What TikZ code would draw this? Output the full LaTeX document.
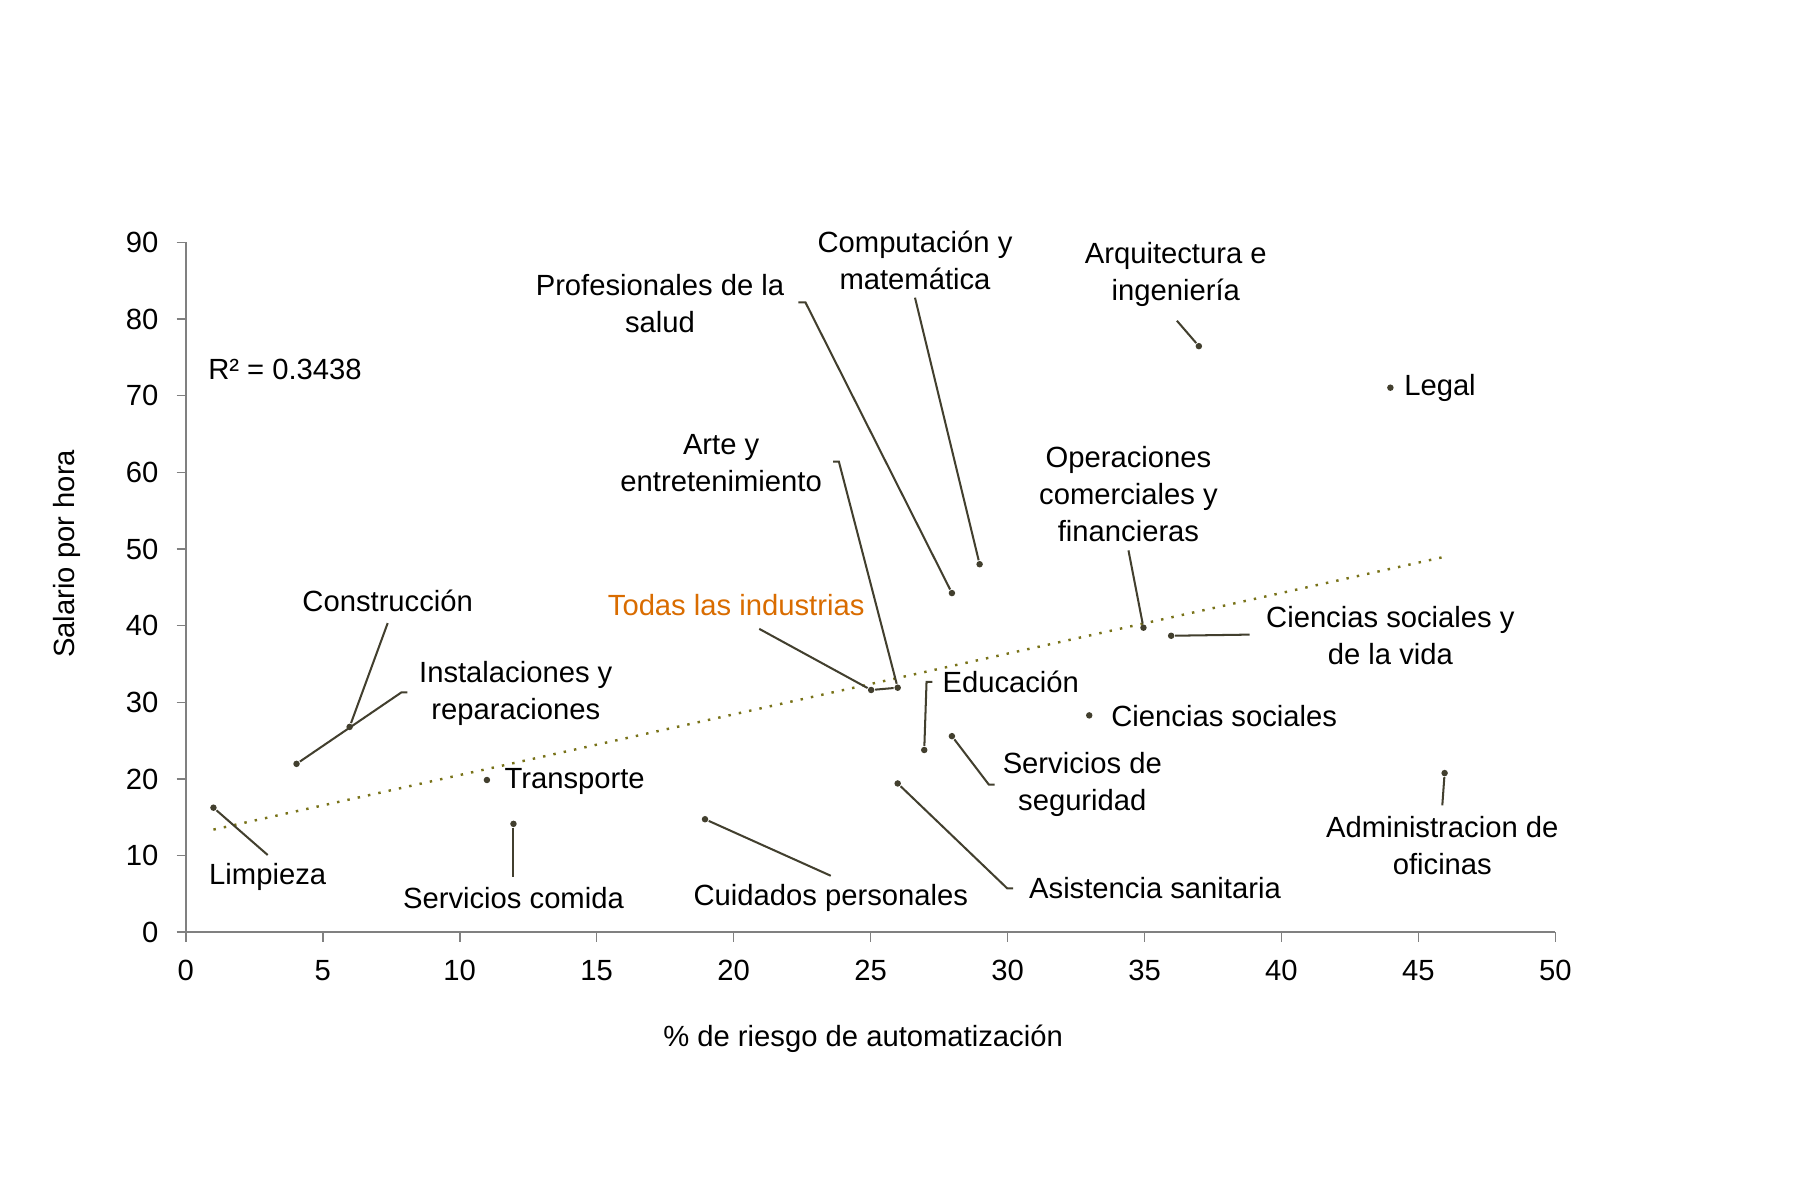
\documentclass[tikz,border=0pt]{standalone}
\usepackage{fontspec}
\setmainfont{Liberation Sans}
\begin{document}
\begin{tikzpicture}[x=0.01cm,y=-0.01cm,
  lbl/.style={font=\fontsize{7.2}{9.1}\selectfont,align=center,inner sep=0pt},
  ld/.style={draw=black!70!olive,line width=0.5pt},
  pt/.style={circle,fill=black!70!olive,inner sep=0pt,minimum size=1.6pt}]
\useasboundingbox (0,0) rectangle (1560,1040);
% axes
\draw[gray,line width=0.4pt] (161,210) -- (161,808) -- (1348,808);
\foreach \v [count=\i from 0] in {0,10,...,90}{
  \pgfmathsetmacro\yy{808-6.644*\v}
  \draw[gray] (153,\yy) -- (161,\yy);
  \node[lbl,anchor=east] at (138,\yy) {\v};}
\foreach \v in {0,5,...,50}{
  \pgfmathsetmacro\xx{161+23.74*\v}
  \draw[gray] (\xx,808) -- (\xx,816);
  \node[lbl] at (\xx,841) {\v};}
\node[lbl] (xl) at (748,900) {\% de riesgo de automatización};
\node[lbl,rotate=90] (yl) at (58,480) {Salario por hora};
\node[lbl] (r2) at (247,320) {R² = 0.3438};
\draw[olive!80!black,dotted,line width=0.6pt] (185,719) -- (1250,483);
% points
\node[pt] (p1) at (185,700) {};
\node[pt] (p2) at (257,662) {};
\node[pt] (p3) at (303,630) {};
\node[pt] (p4) at (422,676) {};
\node[pt] (p5) at (445,714) {};
\node[pt] (p6) at (611,710) {};
\node[pt] (p7) at (755,598) {};
\node[pt] (p8) at (778,596) {};
\node[pt] (p9) at (825,514) {};
\node[pt] (p10) at (849,489) {};
\node[pt] (p11) at (1039,300) {};
\node[pt] (p12) at (1205,336) {};
\node[pt] (p13) at (991,544) {};
\node[pt] (p14) at (1015,551) {};
\node[pt] (p15) at (801,650) {};
\node[pt] (p16) at (944,620) {};
\node[pt] (p17) at (825,638) {};
\node[pt] (p18) at (778,679) {};
\node[pt] (p19) at (1252,670) {};
% labels
\node[lbl] (l1) at (232,760) {Limpieza};
\node[lbl] (l2) at (336,521) {Construcción};
\node[lbl] (l3) at (447,601) {Instalaciones y\\reparaciones};
\node[lbl] (l4) at (498,677) {Transporte};
\node[lbl] (l5) at (445,778) {Servicios comida};
\node[lbl] (l6) at (720,778) {Cuidados personales};
\node[lbl,text=orange!85!black] (l7) at (638,524) {Todas las industrias};
\node[lbl] (l8) at (625,401) {Arte y\\entretenimiento};
\node[lbl] (l9) at (572,263) {Profesionales de la\\salud};
\node[lbl] (l10) at (793,226) {Computación y\\matemática};
\node[lbl] (l11) at (1019,238) {Arquitectura e\\ingeniería};
\node[lbl] (l12) at (1248,336) {Legal};
\node[lbl] (l13) at (978,428) {Operaciones\\comerciales y\\financieras};
\node[lbl] (l14) at (1205,551) {Ciencias sociales y\\de la vida};
\node[lbl] (l15) at (876,591) {Educación};
\node[lbl] (l16) at (1061,621) {Ciencias sociales};
\node[lbl] (l17) at (938,680) {Servicios de\\seguridad};
\node[lbl] (l18) at (1001,770) {Asistencia sanitaria};
\node[lbl] (l19) at (1250,733) {Administracion de\\oficinas};
% leaders
\draw[ld] (p1) -- (232,741);
\draw[ld] (p3) -- (336,540);
\draw[ld] (p2) -- (348,600) -- (353,600);
\draw[ld] (p5) -- (445,760);
\draw[ld] (p6) -- (720,759);
\draw[ld] (p7) -- (658,545);
\draw[ld] (p7) -- (p8);
\draw[ld] (p8) -- (727,400) -- (722,400);
\draw[ld] (p9) -- (698,262) -- (692,262);
\draw[ld] (p10) -- (793,258);
\draw[ld] (p11) -- (1020,278);
\draw[ld] (p13) -- (978,477);
\draw[ld] (p14) -- (1083,550);
\draw[ld] (p15) -- (803,591) -- (808,591);
\draw[ld] (p17) -- (857,680) -- (862,680);
\draw[ld] (p18) -- (873,770) -- (878,770);
\draw[ld] (p19) -- (1250,698);
\end{tikzpicture}
\end{document}
